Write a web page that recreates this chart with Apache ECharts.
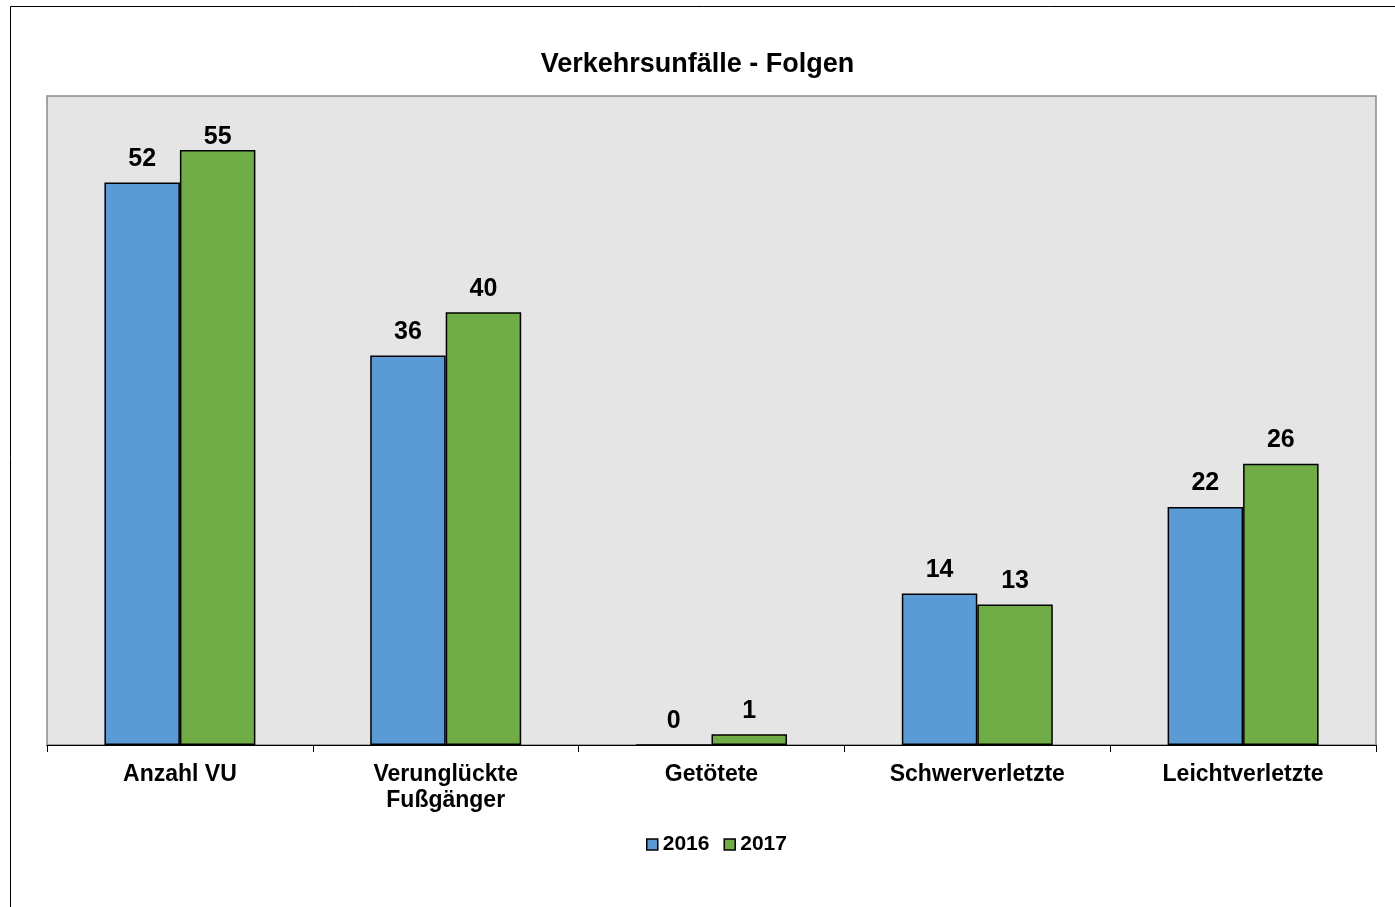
<!DOCTYPE html>
<html>
<head>
<meta charset="utf-8">
<script src="https://cdn.jsdelivr.net/npm/echarts@6/dist/echarts.min.js"></script>
<style>
html,body{margin:0;padding:0;background:#fff;}
#chart{width:1395px;height:907px;}
</style>
</head>
<body>
<div id="chart"></div>
<script>
const categories = ['Anzahl VU', 'Verunglückte\nFußgänger', 'Getötete', 'Schwerverletzte', 'Leichtverletzte'];
const seriesNames = ['2016', '2017'];
const values2016 = [52, 36, 0, 14, 22];
const values2017 = [55, 40, 1, 13, 26];

const chart = echarts.init(document.getElementById('chart'));
const font = '"Liberation Sans", Arial, sans-serif';
const labelStyle = {show: true, position: 'top', distance: 11, color: '#000', fontFamily: font, fontWeight: 'bold', fontSize: 25};

function items(vals, offsetIdx) {
  return vals.map((v, i) => i === offsetIdx ? {value: v, label: {offset: [0, 11]}} : v);
}

chart.setOption({
  animation: false,
  backgroundColor: '#fff',
  textStyle: {fontFamily: font},
  title: {
    text: 'Verkehrsunfälle - Folgen',
    left: 'center', top: 46,
    textStyle: {fontFamily: font, fontWeight: 'bold', fontSize: 27, color: '#000'}
  },
  graphic: [{
    type: 'rect', silent: true, z: -10,
    shape: {x: 10.5, y: 6.5, width: 1500, height: 1000},
    style: {fill: 'none', stroke: '#000', lineWidth: 1}
  }],
  legend: {
    data: seriesNames,
    left: 641, top: 829,
    icon: 'rect', itemWidth: 11, itemHeight: 11, itemGap: 14,
    itemStyle: {borderColor: '#000', borderWidth: 1.5},
    textStyle: {fontFamily: font, fontWeight: 'bold', fontSize: 21, color: '#000'}
  },
  grid: {
    left: 47, right: 19, top: 96, bottom: 162,
    show: true, backgroundColor: '#e5e5e5', borderColor: '#8a8a8a', borderWidth: 1.5
  },
  xAxis: {
    type: 'category', data: categories,
    axisLine: {lineStyle: {color: '#000', width: 1.2}},
    axisTick: {show: true, length: 7, lineStyle: {color: '#000'}},
    axisLabel: {color: '#000', fontFamily: font, fontWeight: 'bold', fontSize: 23, margin: 17, lineHeight: 26, interval: 0}
  },
  yAxis: {
    type: 'value', min: 0, max: 60,
    show: false, splitLine: {show: false}
  },
  series: [
    {
      name: '2016', type: 'bar', data: items(values2016, -1),
      barWidth: '28.4%', barGap: '0%',
      itemStyle: {color: '#5b9bd5', borderColor: '#000', borderWidth: 1.5},
      label: labelStyle
    },
    {
      name: '2017', type: 'bar', data: items(values2017, 0),
      barWidth: '28.4%',
      itemStyle: {color: '#70ad47', borderColor: '#000', borderWidth: 1.5},
      label: labelStyle
    }
  ]
});
</script>
</body>
</html>
